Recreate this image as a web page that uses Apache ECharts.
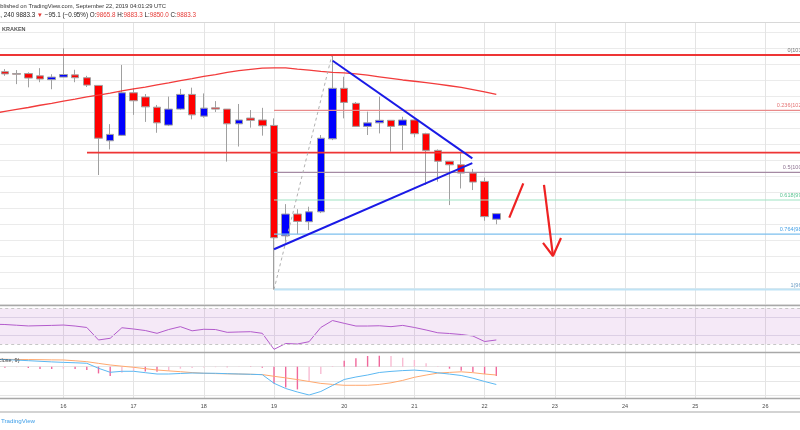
<!DOCTYPE html>
<html><head><meta charset="utf-8">
<script src="https://cdn.jsdelivr.net/npm/echarts@6/dist/echarts.min.js"></script>
<style>html,body{margin:0;padding:0;background:#fff}#c{width:800px;height:430px}</style>
</head><body><div id="c"></div>
<script>
// ---- data (BTCUSD, Kraken, 240 min) ----
const times = ['15 00:00','15 04:00','15 08:00','15 12:00','15 16:00','15 20:00',
 '16 00:00','16 04:00','16 08:00','16 12:00','16 16:00','16 20:00',
 '17 00:00','17 04:00','17 08:00','17 12:00','17 16:00','17 20:00',
 '18 00:00','18 04:00','18 08:00','18 12:00','18 16:00','18 20:00',
 '19 00:00','19 04:00','19 08:00','19 12:00','19 16:00','19 20:00',
 '20 00:00','20 04:00','20 08:00','20 12:00','20 16:00','20 20:00',
 '21 00:00','21 04:00','21 08:00','21 12:00','21 16:00','21 20:00',
 '22 00:00','22 04:00'];
// candles start at times[1]
const candleOpen  = [10327,10321,10321,10314,10302,10310,10317,10308,10284,10111,10128,10261,10248,10216,10160,10210,10256,10188,10214,10210,10164,10182,10176,10159,9814,9882,9858,9889,10117,10275,10228,10156,10167,10175,10159,10176,10133,10081,10047,10036,10010,9984,9865.8];
const candleClose = [10320,10319,10307,10304,10310,10318,10308,10285,10119,10131,10261,10236,10217,10167,10210,10256,10192,10213,10210,10164,10176,10175,10158,9808,9882,9859,9889,10119,10275,10231,10156,10167,10175,10156,10176,10133,10081,10047,10036,10010,9982,9874,9883.3];
const candleLow   = [10314,10288,10278,10294,10272,10309,10294,10279,10004,10084,10126,10192,10170,10136,10157,10207,10178,10183,10201,10046,10093,10152,10127,9646,9796,9819,9832,9885,10113,10181,10154,10129,10134,10077,10082,10122,9973,9983,9910,9962,9957,9861,9850.0];
const candleHigh  = [10335,10332,10325,10338,10319,10400,10333,10314,10284,10163,10348,10276,10257,10223,10249,10273,10277,10259,10235,10210,10226,10207,10214,10181,9913,9897,9905,10129,10379,10311,10232,10202,10249,10175,10186,10182,10136,10084,10047,10072,10023,9996,9883.3];
const maValues = [10196,10203,10209,10215,10222,10228,10235,10241,10248,10254,10260,10267,10273,10279,10286,10292,10299,10305,10312,10318,10325,10330,10334,10338,10339,10339,10335,10332,10328,10325,10323,10320,10316,10311,10306,10301,10297,10293,10288,10283,10278,10271,10264,10256];
const rsiValues = [52.3,52.0,51.2,50.4,50.7,51.0,51.4,50.3,48.7,34.8,36.7,48.4,47.0,45.3,42.2,46.4,49.6,45.0,46.7,46.4,43.3,43.7,44.0,42.2,24.4,30.9,30.3,32.9,48.7,56.4,53.3,50.3,50.3,50.6,49.6,51.0,48.7,45.9,42.8,42.0,40.9,39.2,33.1,34.8];
const macdValues = [25.9,25.2,23.1,21.0,18.9,16.8,15.1,13.7,11.9,-5.6,-19.6,-16.1,-16.1,-21.0,-25.6,-25.6,-23.8,-22.1,-22.8,-23.1,-24.5,-25.6,-26.6,-28.0,-58.1,-76.3,-88.6,-99.1,-86.8,-65.8,-44.8,-36.1,-29.1,-20.3,-16.5,-13.7,-11.9,-15.1,-21.4,-25.9,-30.8,-40.3,-51.8,-62.3];
const signalValues = [25.9,25.9,25.2,24.9,24.5,23.8,23.5,20.7,17.5,11.6,6.0,1.8,-2.1,-7.0,-11.6,-14.7,-17.5,-20.7,-23.1,-24.2,-24.9,-25.6,-26.6,-27.7,-33.6,-39.2,-45.2,-51.8,-58.5,-62.0,-65.1,-65.1,-65.1,-62.0,-56.4,-48.0,-37.1,-29.4,-22.4,-20.0,-17.9,-21.0,-25.6,-29.1];
// histogram starts at times[1]
const histValues = [-3.5,-1.8,-4.6,-8.1,-8.1,-7.0,-8.1,-11.6,-23.5,-32.6,-21.0,-15.1,-16.5,-17.5,-14.0,-7.0,-4.6,-2.5,-1.8,-1.8,-1.1,-1.1,-3.5,-58.5,-72.5,-79.5,-50.1,-25.6,2.5,21.0,29.1,37.5,38.5,37.5,31.5,23.5,11.6,1.1,-7.0,-14.0,-18.6,-25.6,-32.6];
const dayTicks = [16,17,18,19,20,21,22,23,24,25,26];
const fibRatios = ['0','0.236','0.5','0.618','0.764','1'];
const fibPrices = [10379.0,10206.0,10012.5,9926.0,9819.0,9646.0];
const fibStartDay = 19.0;
const resistanceTop = [[15, 10379], [27, 10379]];
const resistanceMid = [[16.336, 10074], [27, 10074]];
const trendUpper = [[19.836, 10361], [21.825, 10056]];
const trendLower = [[19.0, 9772], [21.825, 10041]];
const fibTrend = [[19.0, 9646], [19.822, 10376]];
const redUp = [[22.352, 9871], [22.551, 9978]];
const redDown = [[22.846, 9973], [22.974, 9751]];
const redHead = [[22.832, 9792], [22.974, 9751], [23.088, 9807]];

// ---- build ----
const T = times.map(s => +s.slice(0, 2) + (+s.slice(3, 5)) / 24);
const TC = T.slice(1);
const chart = echarts.init(document.getElementById('c'), null, {renderer: 'canvas'});
const FONT = '"Liberation Sans", Arial, sans-serif';
const gl = -6.8, gw = 842.4;
const fibColors = ['#8a8a8a', '#e98a8a', '#a58aa3', '#9fe3c3', '#7cbfee', '#bfe3f5'];
const fibTextColors = ['#777777', '#e57373', '#8d7390', '#5cc493', '#4aa3e6', '#6a9cc4'];

const candleData = candleOpen.map((o, i) => [TC[i], o, candleClose[i], candleLow[i], candleHigh[i]]);
const histData = histValues.map((v, i) => {
  const prev = i > 0 ? histValues[i - 1] : v;
  const grow = Math.abs(v) >= Math.abs(prev);
  return {value: [TC[i], v], itemStyle: {color: grow ? '#f0689c' : '#f8bcd3'}};
});
function seg(data, color, width, extra) {
  return Object.assign({type: 'line', xAxisIndex: 1, yAxisIndex: 1, data: data, symbol: 'none',
    lineStyle: {color: color, width: width}, z: 5, silent: true, clip: false, animation: false}, extra || {});
}
const series = [
  {type: 'candlestick', xAxisIndex: 1, yAxisIndex: 1, data: candleData, encode: {x: 0, y: [1, 2, 3, 4]},
   dimensions: ['t', 'open', 'close', 'lowest', 'highest'], barWidth: 8, z: 3,
   itemStyle: {color: '#0000ff', color0: '#ff0000', borderColor: '#a0a0a0', borderColor0: '#a0a0a0', borderWidth: 1}},
  seg(T.map((t, i) => [t, maValues[i]]), '#f23b3b', 1.3, {z: 4}),
  seg(resistanceTop, '#ee3535', 1.8),
  seg(resistanceMid, '#ee3535', 1.8),
];
fibPrices.forEach((p, k) => {
  series.push(seg([[fibStartDay, p], [27, p]], fibColors[k], k === 5 ? 2 : 1.2, {z: 4}));
});
series.push(seg(fibTrend, '#b0b0b0', 1, {lineStyle: {color: '#b0b0b0', width: 1, type: [3, 3]}}));
series.push(seg(trendUpper, '#1a1ae6', 2));
series.push(seg(trendLower, '#1a1ae6', 2));
series.push(seg(redUp, '#ee2222', 2.2));
series.push(seg(redDown, '#ee2222', 2.2));
series.push(seg(redHead, '#ee2222', 2.2));
// RSI
series.push({type: 'line', xAxisIndex: 2, yAxisIndex: 2, data: T.map((t, i) => [t, rsiValues[i]]), symbol: 'none',
  clip: false, lineStyle: {color: '#b35bcc', width: 1}, z: 4, silent: true,
  markArea: {silent: true, itemStyle: {color: 'rgba(156,39,176,0.1)'}, data: [[{yAxis: 30}, {yAxis: 70}]]},
  markLine: {silent: true, symbol: 'none', label: {show: false}, animation: false,
    data: [{yAxis: 70, lineStyle: {color: '#c6c6c6', type: [3, 3], width: 1}},
           {yAxis: 30, lineStyle: {color: '#c6c6c6', type: [3, 3], width: 1}},
           {yAxis: 60, lineStyle: {color: '#dccfe5', type: 'solid', width: 1}},
           {yAxis: 40, lineStyle: {color: '#dccfe5', type: 'solid', width: 1}}]}});
// MACD
series.push({type: 'bar', xAxisIndex: 3, yAxisIndex: 3, data: histData, barWidth: 1.4, z: 3, silent: true});
series.push({type: 'line', xAxisIndex: 3, yAxisIndex: 3, data: T.map((t, i) => [t, signalValues[i]]), symbol: 'none',
  lineStyle: {color: '#ffa86e', width: 1}, z: 4, silent: true});
series.push({type: 'line', xAxisIndex: 3, yAxisIndex: 3, data: T.map((t, i) => [t, macdValues[i]]), symbol: 'none',
  lineStyle: {color: '#5cb8f2', width: 1}, z: 4, silent: true});

const hiddenX = i => ({type: 'value', gridIndex: i, min: 15, max: 27, interval: 1, show: false});
const G = (top, height) => ({left: gl, width: gw, top: top, height: height, containLabel: false, outerBoundsMode: 'none'});
chart.setOption({
  animation: false,
  backgroundColor: '#ffffff',
  grid: [G(22, 376), G(32.3, 272), G(308.3, 36), G(352.4, 42.86)],
  xAxis: [
    {type: 'value', gridIndex: 0, min: 15, max: 27, interval: 1,
     axisLine: {show: false}, axisTick: {show: false},
     splitLine: {show: true, lineStyle: {color: '#e4e4e4', width: 1}},
     axisLabel: {show: true, margin: 5, fontSize: 5.5, color: '#4a4a4a', fontFamily: FONT,
       formatter: v => dayTicks.indexOf(v) >= 0 ? String(v) : ''}},
    hiddenX(1), hiddenX(2), hiddenX(3)
  ],
  yAxis: [
    {type: 'value', gridIndex: 0, min: 0, max: 1, show: false},
    {type: 'value', gridIndex: 1, min: 9600, max: 10450, interval: 50,
     axisLine: {show: false}, axisTick: {show: false}, axisLabel: {show: false},
     splitLine: {show: true, lineStyle: {color: '#ebebeb', width: 1}}},
    {type: 'value', gridIndex: 2, min: 30, max: 70, axisLine: {show: false}, axisTick: {show: false},
     axisLabel: {show: false}, splitLine: {show: false}},
    {type: 'value', gridIndex: 3, min: -100, max: 50, interval: 50,
     axisLine: {show: false}, axisTick: {show: false}, axisLabel: {show: false},
     splitLine: {show: true, lineStyle: {color: '#e6e6e6', width: 1}}}
  ],
  series: series
});

// ---- texts & pane borders ----
const graphics = [];
const hline = (y, color, w) => graphics.push({type: 'line', silent: true, z: 10,
  shape: {x1: 0, y1: y, x2: 800, y2: y}, style: {stroke: color, lineWidth: w}});
hline(22.5, '#d8d8d8', 1);
hline(305.5, '#a8a8a8', 1.5);
hline(352.5, '#a8a8a8', 1.5);
hline(398.5, '#a8a8a8', 1.5);
hline(412, '#c4c4c4', 1.5);
graphics.push({type: 'text', z: 20, x: 166, y: 6, style: {text: 'Published on TradingView.com, September 22, 2019 04:01:29 UTC',
  font: '5.8px ' + FONT, fill: '#333333', align: 'right', verticalAlign: 'middle'}});
graphics.push({type: 'text', z: 20, x: 196, y: 15, style: {
  text: '{d|BTCUSD, 240 9883.3 }{r|▼}{d| −95.1 (−0.95%) O:}{r|9865.8}{d| H:}{r|9883.3}{d| L:}{r|9850.0}{d| C:}{r|9883.3}',
  font: '6.27px ' + FONT, fill: '#222222', align: 'right', verticalAlign: 'middle',
  rich: {d: {fill: '#222222', fontSize: 6.27, fontFamily: FONT}, r: {fill: '#e53935', fontSize: 6.27, fontFamily: FONT}}}});
graphics.push({type: 'text', z: 20, x: 2, y: 29.5, style: {text: 'KRAKEN', font: 'bold 5.5px ' + FONT, fill: '#555555',
  align: 'left', verticalAlign: 'middle'}});
graphics.push({type: 'text', z: 20, x: 19.5, y: 360.5, style: {text: 'MACD (12, 26, close, 9)', font: '5.5px ' + FONT,
  fill: '#444444', align: 'right', verticalAlign: 'middle'}});
graphics.push({type: 'text', z: 20, x: 1, y: 421, style: {text: 'TradingView', font: '6.2px ' + FONT, fill: '#3d9ee8',
  align: 'left', verticalAlign: 'middle'}});
fibPrices.forEach((p, k) => {
  const y = chart.convertToPixel({xAxisIndex: 1, yAxisIndex: 1}, [20, p])[1];
  graphics.push({type: 'text', z: 20, x: 814, y: y - 1.5, style: {
    text: fibRatios[k] + '(' + p.toFixed(1) + ')', font: '5.5px ' + FONT, fill: fibTextColors[k],
    align: 'right', verticalAlign: 'bottom'}});
});
chart.setOption({graphic: graphics});
</script></body></html>
